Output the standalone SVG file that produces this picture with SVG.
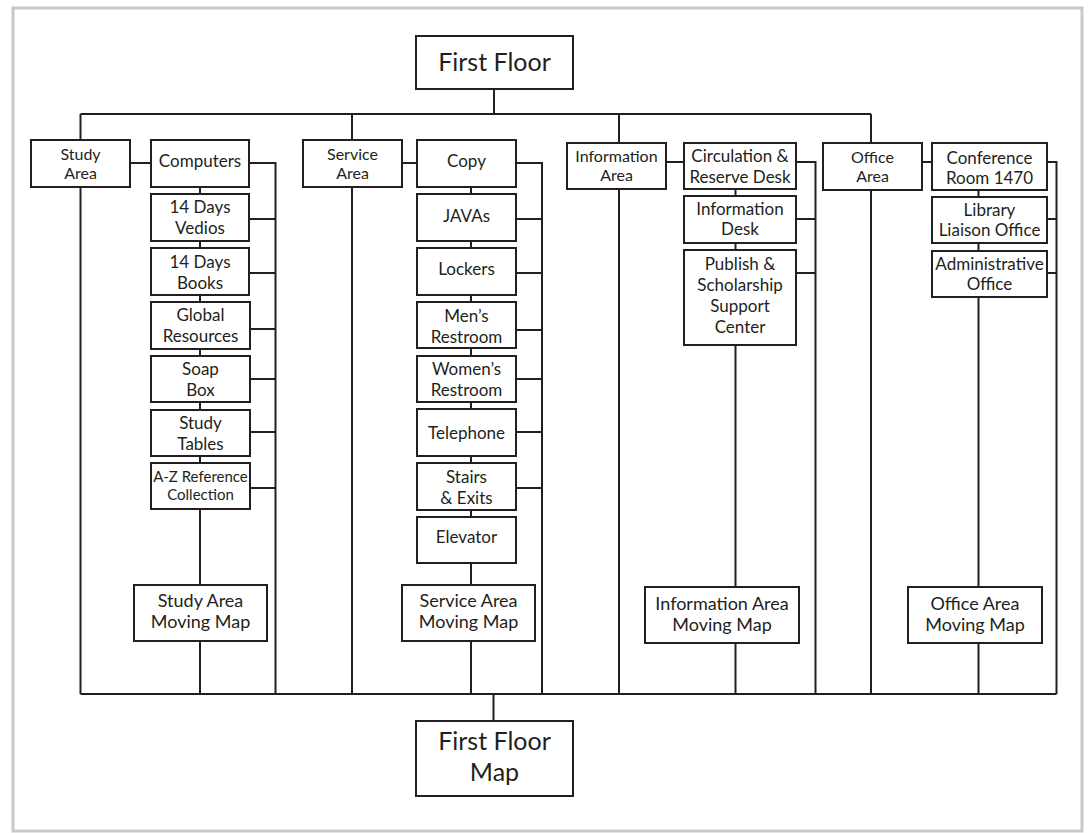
<svg xmlns="http://www.w3.org/2000/svg" width="1088" height="833" viewBox="0 0 1088 833">
<style>
.box{fill:#fff;stroke:#231f20;stroke-width:2}
.t{font-family:Lato,"Open Sans","Liberation Sans",sans-serif;font-size:17px;fill:#231f20;text-anchor:middle}
.h{font-size:16px}
.s{font-size:15px}
.m{font-size:18px}
.b{font-size:25px}
#connectors path{fill:none;stroke:#231f20;stroke-width:2}
</style>
<rect x="0" y="0" width="1088" height="833" fill="#fff"/>
<rect x="13" y="8" width="1069" height="823" fill="none" stroke="#c8c8c8" stroke-width="3"/>
<g id="connectors">
<path d="M494 89V114M80.5 114H871M80.5 114V140M352 114V140M619 114V143M871 114V143"/>
<path d="M80.5 187V694M80.5 694H1056.5M493.5 694V721"/>
<path d="M130 163H151M200 187V585M200 641V694M249 163H275.5V694M249 219H275.5M249 273H275.5M250 329H275.5M250 379H275.5M250 432H275.5M250 488H275.5"/>
<path d="M352 187V694M402 163H417M471 187V585M471 641V694M516 163H542V694M516 219H542M516 273H542M516 330H542M516 379H542M516 432H542M516 488H542"/>
<path d="M619 189V694M666 162H684M735.5 189V587M735.5 643V694M796 162H815.5V694M796 219H815.5M796 273H815.5"/>
<path d="M871 190V694M922 162H932M978.5 190V587M978.5 643V694M1047 162H1056.5V694M1047 219H1056.5M1047 273H1056.5"/>
</g>
<g id="first-floor"><rect class="box" x="416" y="36" width="157" height="53"/><text class="t b" x="494.5" y="71">First Floor</text></g>
<g id="first-floor-map"><rect class="box" x="416" y="721" width="157" height="75"/><text class="t b" x="494.5" y="750">First Floor</text><text class="t b" x="494.5" y="781">Map</text></g>

<g id="study-area"><rect class="box" x="31" y="140" width="99" height="47"/><text class="t h" x="80.5" y="160">Study</text><text class="t h" x="80.5" y="179">Area</text></g>
<g id="computers"><rect class="box" x="151" y="140" width="98" height="47"/><text class="t" x="200" y="167">Computers</text></g>
<g id="vedios"><rect class="box" x="151" y="194" width="98" height="47"/><text class="t" x="200" y="213">14 Days</text><text class="t" x="200" y="234">Vedios</text></g>
<g id="books"><rect class="box" x="151" y="248" width="98" height="47"/><text class="t" x="200" y="267.5">14 Days</text><text class="t" x="200" y="289">Books</text></g>
<g id="global"><rect class="box" x="151" y="302" width="99" height="47"/><text class="t" x="200.5" y="321">Global</text><text class="t" x="200.5" y="342">Resources</text></g>
<g id="soap"><rect class="box" x="151" y="356" width="99" height="46"/><text class="t" x="200.5" y="374.5">Soap</text><text class="t" x="200.5" y="395.5">Box</text></g>
<g id="tables"><rect class="box" x="151" y="410" width="99" height="46"/><text class="t" x="200.5" y="428.5">Study</text><text class="t" x="200.5" y="449.5">Tables</text></g>
<g id="az"><rect class="box" x="151" y="463" width="99" height="46"/><text class="t s" x="200.5" y="481.5">A-Z Reference</text><text class="t s" x="200.5" y="500">Collection</text></g>
<g id="study-map"><rect class="box" x="134" y="585" width="133" height="56"/><text class="t m" x="200.5" y="607">Study Area</text><text class="t m" x="200.5" y="628">Moving Map</text></g>

<g id="service-area"><rect class="box" x="303" y="140" width="99" height="47"/><text class="t h" x="352.5" y="160">Service</text><text class="t h" x="352.5" y="179">Area</text></g>
<g id="copy"><rect class="box" x="417" y="140" width="99" height="47"/><text class="t" x="466.5" y="166.5">Copy</text></g>
<g id="javas"><rect class="box" x="417" y="194" width="99" height="47"/><text class="t" x="466.5" y="222">JAVAs</text></g>
<g id="lockers"><rect class="box" x="417" y="248" width="99" height="47"/><text class="t" x="466.5" y="274.5">Lockers</text></g>
<g id="mens"><rect class="box" x="417" y="302" width="99" height="46"/><text class="t" x="466.5" y="321.5">Men’s</text><text class="t" x="466.5" y="343">Restroom</text></g>
<g id="womens"><rect class="box" x="417" y="356" width="99" height="46"/><text class="t" x="466.5" y="375">Women’s</text><text class="t" x="466.5" y="396">Restroom</text></g>
<g id="telephone"><rect class="box" x="417" y="409" width="99" height="47"/><text class="t" x="466.5" y="439">Telephone</text></g>
<g id="stairs"><rect class="box" x="417" y="463" width="99" height="47"/><text class="t" x="466.5" y="482.5">Stairs</text><text class="t" x="466.5" y="503.5">&amp; Exits</text></g>
<g id="elevator"><rect class="box" x="417" y="517" width="99" height="46"/><text class="t" x="466.5" y="543">Elevator</text></g>
<g id="service-map"><rect class="box" x="402" y="585" width="133" height="56"/><text class="t m" x="468.5" y="607">Service Area</text><text class="t m" x="468.5" y="628">Moving Map</text></g>

<g id="info-area"><rect class="box" x="567" y="143" width="99" height="46"/><text class="t h" x="616.5" y="162">Information</text><text class="t h" x="616.5" y="181">Area</text></g>
<g id="circulation"><rect class="box" x="684" y="143" width="112" height="46"/><text class="t" x="740" y="162">Circulation &amp;</text><text class="t" x="740" y="182.5">Reserve Desk</text></g>
<g id="info-desk"><rect class="box" x="684" y="196" width="112" height="47"/><text class="t" x="740" y="214.5">Information</text><text class="t" x="740" y="235">Desk</text></g>
<g id="publish"><rect class="box" x="684" y="250" width="112" height="95"/><text class="t" x="740" y="269.5">Publish &amp;</text><text class="t" x="740" y="291">Scholarship</text><text class="t" x="740" y="312">Support</text><text class="t" x="740" y="333">Center</text></g>
<g id="info-map"><rect class="box" x="645" y="587" width="154" height="56"/><text class="t m" x="722" y="610">Information Area</text><text class="t m" x="722" y="630.5">Moving Map</text></g>

<g id="office-area"><rect class="box" x="823" y="143" width="99" height="47"/><text class="t h" x="872.5" y="162.5">Office</text><text class="t h" x="872.5" y="181.5">Area</text></g>
<g id="conference"><rect class="box" x="932" y="143" width="115" height="47"/><text class="t" x="989.5" y="163.5">Conference</text><text class="t" x="989.5" y="184">Room 1470</text></g>
<g id="liaison"><rect class="box" x="932" y="197" width="115" height="46"/><text class="t" x="989.5" y="216">Library</text><text class="t" x="989.5" y="236">Liaison Office</text></g>
<g id="admin"><rect class="box" x="932" y="251" width="115" height="46"/><text class="t" x="989.5" y="270">Administrative</text><text class="t" x="989.5" y="290">Office</text></g>
<g id="office-map"><rect class="box" x="908" y="587" width="134" height="56"/><text class="t m" x="975" y="610">Office Area</text><text class="t m" x="975" y="630.5">Moving Map</text></g>
</svg>
